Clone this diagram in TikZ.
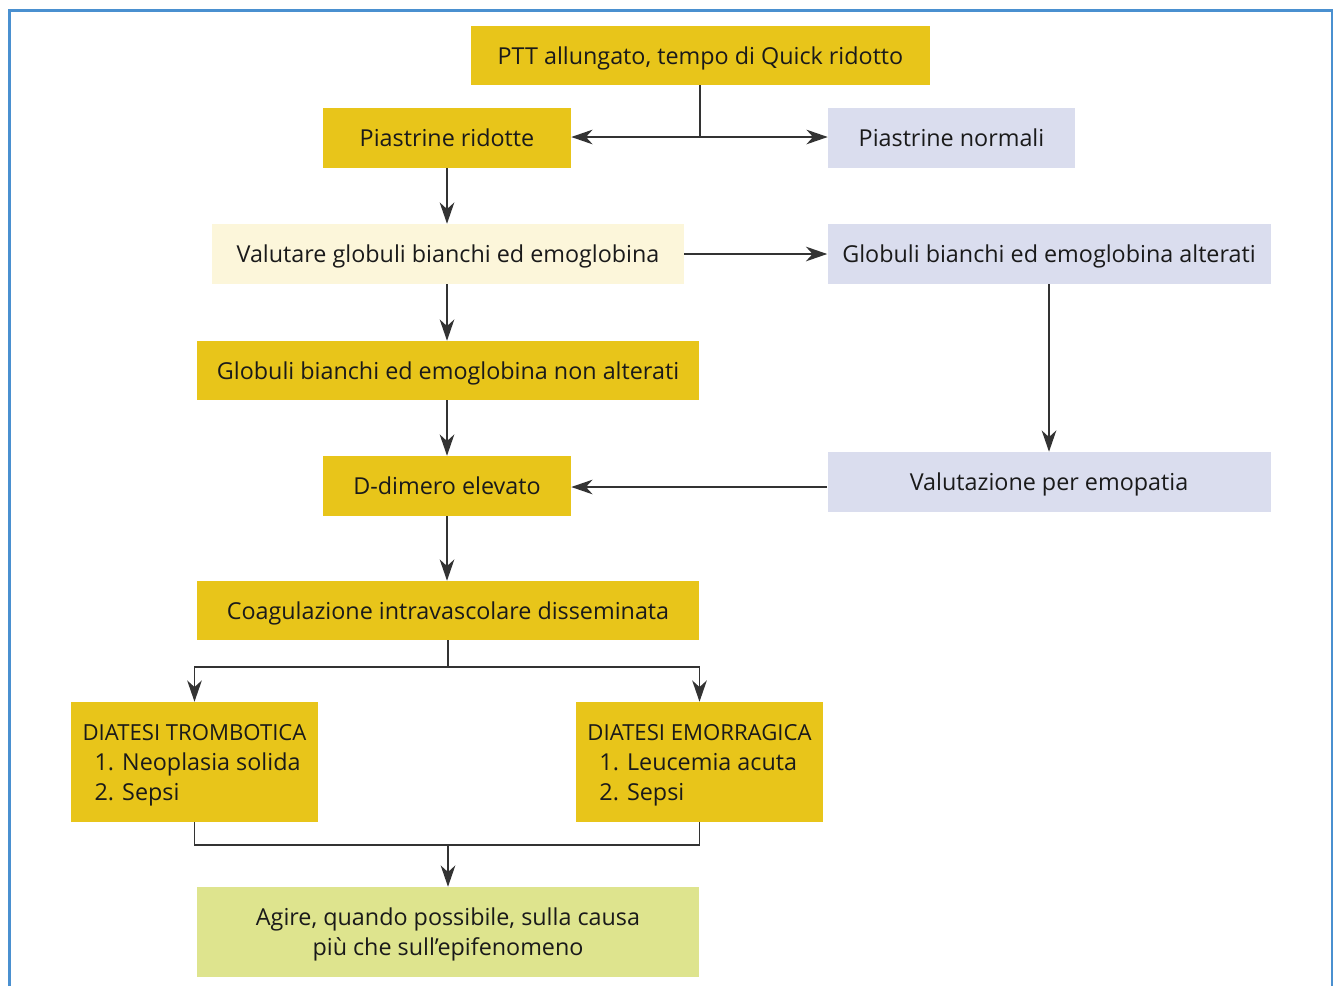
\documentclass[tikz,border=0pt]{standalone}
\usepackage{fontspec}
\setmainfont{Open Sans}
\usetikzlibrary{arrows.meta}
\definecolor{gold}{HTML}{E8C51A}
\definecolor{lav}{HTML}{DADDEE}
\definecolor{cream}{HTML}{FCF6DA}
\definecolor{lgreen}{HTML}{DEE48E}
\definecolor{frame}{HTML}{4A90D0}
\definecolor{conn}{HTML}{333333}
\definecolor{txt}{HTML}{1A1A1A}
\newcommand{\capline}[1]{{\fontsize{16.6}{22.5}\selectfont #1}}
\begin{document}
\begin{tikzpicture}[x=0.75pt,y=-0.75pt,
  box/.style n args={3}{fill=#1, draw=none, inner sep=0pt, text=txt,
    minimum width=#2*0.75pt, minimum height=#3*0.75pt, text depth=0pt,
    font=\fontsize{17.5}{22.5}\selectfont},
  conline/.style={draw=conn, line width=1.1pt},
  arr/.style={conline, -{Stealth[length=16pt,width=11pt,inset=5pt]}}]
\useasboundingbox (0,0) rectangle (1333,986);
\draw[frame, line width=1.6pt] (9.5,986) -- (9.5,10.5) -- (1332,10.5) -- (1332,986);

\node[box={gold}{459}{59}] (b1) at (700.5,55.5) {PTT allungato, tempo di Quick ridotto};
\node[box={gold}{248}{60}] (pr) at (447,138) {Piastrine ridotte};
\node[box={lav}{247}{60}] (pn) at (951.5,138) {Piastrine normali};
\node[box={cream}{472}{60}] (val) at (448,254) {Valutare globuli bianchi ed emoglobina};
\node[box={lav}{443}{60}] (ga) at (1049,254) {Globuli bianchi ed emoglobina alterati};
\node[box={gold}{502}{59}] (na) at (448,370.5) {Globuli bianchi ed emoglobina non alterati};
\node[box={gold}{248}{60}] (dd) at (447,486) {D-dimero elevato};
\node[box={lav}{443}{60}] (vp) at (1049,482) {Valutazione per emopatia};
\node[box={gold}{502}{59}] (cid) at (448,610.5) {Coagulazione intravascolare disseminata};
\node[box={gold}{247}{120}, align=left, text depth=-4.5pt] (tr) at (194.5,762) {\capline{DIATESI TROMBOTICA}\\\hspace*{9pt}1. Neoplasia solida\\\hspace*{9pt}2. Sepsi};
\node[box={gold}{247}{120}, align=left, text depth=-4.5pt] (em) at (699.5,762) {\capline{DIATESI EMORRAGICA}\\\hspace*{9pt}1. Leucemia acuta\\\hspace*{9pt}2. Sepsi};
\node[box={lgreen}{502}{90}, align=center] (ag) at (448,932) {Agire, quando possibile, sulla causa\\più che sull’epifenomeno};

\coordinate (j1) at (700,137);
\draw[conline] (j1 |- b1.south) -- (j1);
\draw[arr] (j1) -- (pr.east |- j1);
\draw[arr] (j1) -- (pn.west |- j1);
\draw[arr] (pr.south) -- (pr.south |- val.north);
\draw[arr] (val.east) -- (ga.west);
\draw[arr] (val.south -| pr.south) -- (na.north -| pr.south);
\draw[arr] (na.south -| dd.south) -- (dd.north);
\draw[arr] (ga.south) -- (vp.north);
\draw[arr] (vp.west |- 0,487) -- (dd.east |- 0,487);
\draw[arr] (dd.south) -- (cid.north -| dd.south);
\coordinate (j2) at (448,667);
\draw[conline] (cid.south) -- (j2);
\draw[arr] (j2) -| (tr.north);
\draw[arr] (j2) -| (em.north);
\coordinate (j3) at (448,845);
\draw[conline] (tr.south) |- (j3) -| (em.south);
\draw[arr] (j3) -- (ag.north);
\end{tikzpicture}
\end{document}
